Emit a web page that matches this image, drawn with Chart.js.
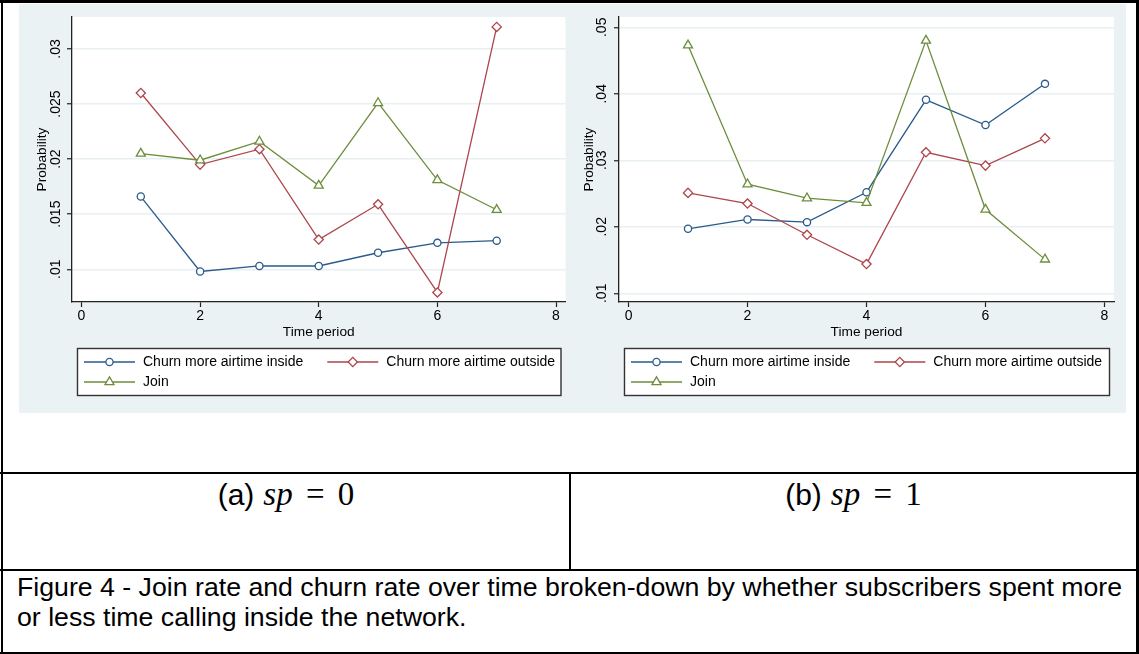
<!DOCTYPE html>
<html>
<head>
<meta charset="utf-8">
<title>Figure 4</title>
<script src="https://cdn.jsdelivr.net/npm/chart.js@4.4.1/dist/chart.umd.min.js"></script>
<style>
  html, body { margin: 0; padding: 0; background: #fff; }
  #page { position: relative; width: 1139px; height: 654px; overflow: hidden; }
  .rule { position: absolute; background: #000; }
  .panel { position: absolute; top: 4px; height: 409px; background: #eaf2f3; }
  canvas { display: block; }
  .sub { position: absolute; top: 477px; text-align: center; font-family: "Liberation Sans", Arial, sans-serif; font-size: 30px; line-height: 34px; color: #000; white-space: nowrap; }
  .sub .m { font-family: "Liberation Serif", serif; font-size: 33px; word-spacing: 5px; margin-left: 9px; }
  #caption { position: absolute; left: 17px; top: 572px; font-family: "Liberation Sans", Arial, sans-serif; font-size: 26.7px; line-height: 30px; white-space: nowrap; color: #000; }
</style>
</head>
<body>
<div id="page">
  <div class="panel" style="left:19px;width:553px"><canvas id="chartA" width="553" height="409"></canvas></div>
  <div class="panel" style="left:572px;width:554px"><canvas id="chartB" width="554" height="409"></canvas></div>

  <div class="rule" style="left:0;top:0;width:1139px;height:3px"></div>
  <div class="rule" style="left:1px;top:0;width:2px;height:654px"></div>
  <div class="rule" style="left:1136px;top:0;width:3px;height:654px"></div>
  <div class="rule" style="left:0;top:652px;width:1139px;height:2px"></div>
  <div class="rule" style="left:0;top:472px;width:1139px;height:2px"></div>
  <div class="rule" style="left:0;top:569px;width:1139px;height:2px"></div>
  <div class="rule" style="left:569px;top:472px;width:2px;height:98px"></div>

  <div class="sub" style="left:3px;width:566px">(a)<span class="m"><i>sp</i> = 0</span></div>
  <div class="sub" style="left:571px;width:565px">(b)<span class="m"><i>sp</i> = 1</span></div>
  <div id="caption">Figure 4 - Join rate and churn rate over time broken-down by whether subscribers spent more<br>or less time calling inside the network.</div>
</div>

<script>
const periods = [1, 2, 3, 4, 5, 6, 7];
const xTicks = [0, 2, 4, 6, 8];
const xTickLabels = ["0", "2", "4", "6", "8"];

// (a) sp = 0
const insideA = [0.0166, 0.0098, 0.0103, 0.0103, 0.0115, 0.0124, 0.0126];
const outsideA = [0.0260, 0.0195, 0.0209, 0.0127, 0.0159, 0.0079, 0.0320];
const joinA = [0.0205, 0.0199, 0.0216, 0.0176, 0.0251, 0.0181, 0.0154];
const yTicksA = [0.01, 0.015, 0.02, 0.025, 0.03];
const yTickLabelsA = [".01", ".015", ".02", ".025", ".03"];

// (b) sp = 1
const insideB = [0.0197, 0.0211, 0.0207, 0.0252, 0.0391, 0.0353, 0.0415];
const outsideB = [0.0251, 0.0235, 0.0188, 0.0144, 0.0312, 0.0292, 0.0333];
const joinB = [0.0473, 0.0264, 0.0243, 0.0236, 0.0480, 0.0226, 0.0151];
const yTicksB = [0.01, 0.02, 0.03, 0.04, 0.05];
const yTickLabelsB = [".01", ".02", ".03", ".04", ".05"];

const BLUE = "#2a5b8c";
const RED = "#ad454c";
const GREEN = "#6c8d3c";
const FONT = '"Liberation Sans", Arial, sans-serif';

// white plot region on the bluish-gray graph background
const plotBg = {
  id: "plotBg",
  beforeDraw(chart) {
    const { ctx, chartArea: a } = chart;
    ctx.save();
    ctx.fillStyle = "#fff";
    ctx.fillRect(a.left, a.top, a.right - a.left, a.bottom - a.top);
    ctx.restore();
  },
};

function marker(ctx, style, x, y, r) {
  ctx.beginPath();
  if (style === "circle") {
    ctx.arc(x, y, r, 0, Math.PI * 2);
  } else if (style === "rectRot") {
    ctx.moveTo(x - r, y);
    ctx.lineTo(x, y - r);
    ctx.lineTo(x + r, y);
    ctx.lineTo(x, y + r);
  } else {
    for (let k = 0; k < 3; k++) {
      const ang = (k * 2 * Math.PI) / 3;
      ctx.lineTo(x + Math.sin(ang) * r, y - Math.cos(ang) * r);
    }
  }
  ctx.closePath();
  ctx.fill();
  ctx.stroke();
}

// Stata style legend: framed box, two columns
const stataLegend = {
  id: "stataLegend",
  afterDraw(chart) {
    const { ctx, chartArea } = chart;
    const left = chartArea.left + 5;
    const right = chartArea.right - 5;
    const top = 344;
    const bottom = 391;
    ctx.save();
    ctx.fillStyle = "#fff";
    ctx.fillRect(left, top, right - left, bottom - top);
    ctx.strokeStyle = "#333";
    ctx.lineWidth = 1.4;
    ctx.strokeRect(left + 0.5, top + 0.5, right - left, bottom - top);

    ctx.font = "14px " + FONT;
    ctx.textBaseline = "middle";
    const ds = chart.data.datasets;
    const firstW = ctx.measureText(ds[0].label).width;
    const slots = [
      { x: left + 7, y: top + 14 },
      { x: left + 7 + 59 + firstW + 24, y: top + 14 },
      { x: left + 7, y: top + 34 },
    ];
    ds.forEach((d, i) => {
      const s = slots[i];
      ctx.strokeStyle = d.borderColor;
      ctx.lineWidth = d.borderWidth;
      ctx.beginPath();
      ctx.moveTo(s.x, s.y);
      ctx.lineTo(s.x + 51, s.y);
      ctx.stroke();
      ctx.fillStyle = "#fff";
      ctx.lineWidth = d.pointBorderWidth;
      marker(ctx, d.pointStyle, s.x + 25.5, s.y, d.pointRadius);
      ctx.fillStyle = "#000";
      ctx.fillText(d.label, s.x + 59, s.y);
    });
    ctx.restore();
  },
};

function series(label, values, color, style, radius, order) {
  return {
    label: label,
    data: periods.map((p, i) => ({ x: p, y: values[i] })),
    borderColor: color,
    backgroundColor: color,
    borderWidth: 1.3,
    pointStyle: style,
    pointRadius: radius,
    pointBorderWidth: 1.3,
    pointBackgroundColor: "#fff",
    pointBorderColor: color,
    tension: 0,
    fill: false,
    clip: false,
    order: order,
  };
}

function makeChart(id, inside, outside, join, yTicks, yLabels, yMin, yMax, fit) {
  return new Chart(document.getElementById(id), {
    type: "line",
    data: {
      datasets: [
        series("Churn more airtime inside", inside, BLUE, "circle", 3.6, 2),
        series("Churn more airtime outside", outside, RED, "rectRot", 4.6, 1),
        series("Join", join, GREEN, "triangle", 5.2, 0),
      ],
    },
    options: {
      responsive: false,
      animation: false,
      events: [],
      layout: { padding: { top: 13, right: fit.padRight, bottom: 71, left: 0 } },
      plugins: { legend: { display: false }, tooltip: { enabled: false } },
      scales: {
        x: {
          type: "linear",
          min: -0.16,
          max: 8.16,
          afterBuildTicks: (s) => { s.ticks = xTicks.map((v) => ({ value: v })); },
          afterFit: (s) => { s.height = 40; },
          ticks: {
            callback: (v, i) => xTickLabels[i],
            font: { family: FONT, size: 14 },
            color: "#000",
            padding: 1,
            maxRotation: 0,
            autoSkip: false,
          },
          grid: { drawOnChartArea: false, tickLength: 5, tickColor: "#222", tickWidth: 1.2 },
          border: { color: "#222", width: 1.3 },
          title: {
            display: true,
            text: "Time period",
            font: { family: FONT, size: 13.7 },
            color: "#000",
            padding: { top: 0, bottom: 2 },
          },
        },
        y: {
          min: yMin,
          max: yMax,
          afterBuildTicks: (s) => { s.ticks = yTicks.map((v) => ({ value: v })); },
          afterFit: (s) => { s.width = fit.yWidth; },
          ticks: {
            callback: (v, i) => yLabels[i],
            font: { family: FONT, size: 14 },
            color: "#000",
            minRotation: 90,
            maxRotation: 90,
            crossAlign: "center",
            padding: fit.labelPad,
            autoSkip: false,
          },
          grid: { color: "#e8f0f1", lineWidth: 1.5, tickLength: 5, tickColor: "#222", tickWidth: 1.2 },
          border: { color: "#222", width: 1.3 },
          title: {
            display: true,
            text: "Probability",
            font: { family: FONT, size: 13.7 },
            color: "#000",
            padding: { top: fit.titlePad, bottom: 0 },
          },
        },
      },
    },
    plugins: [plotBg, stataLegend],
  });
}

makeChart("chartA", insideA, outsideA, joinA, yTicksA, yTickLabelsA, 0.00703, 0.0329,
  { yWidth: 53, padRight: 5, labelPad: -2.6, titlePad: 15.3 });
makeChart("chartB", insideB, outsideB, joinB, yTicksB, yTickLabelsB, 0.00869, 0.05155,
  { yWidth: 47, padRight: 12, labelPad: 2.3, titlePad: 8.8 });
</script>
</body>
</html>
